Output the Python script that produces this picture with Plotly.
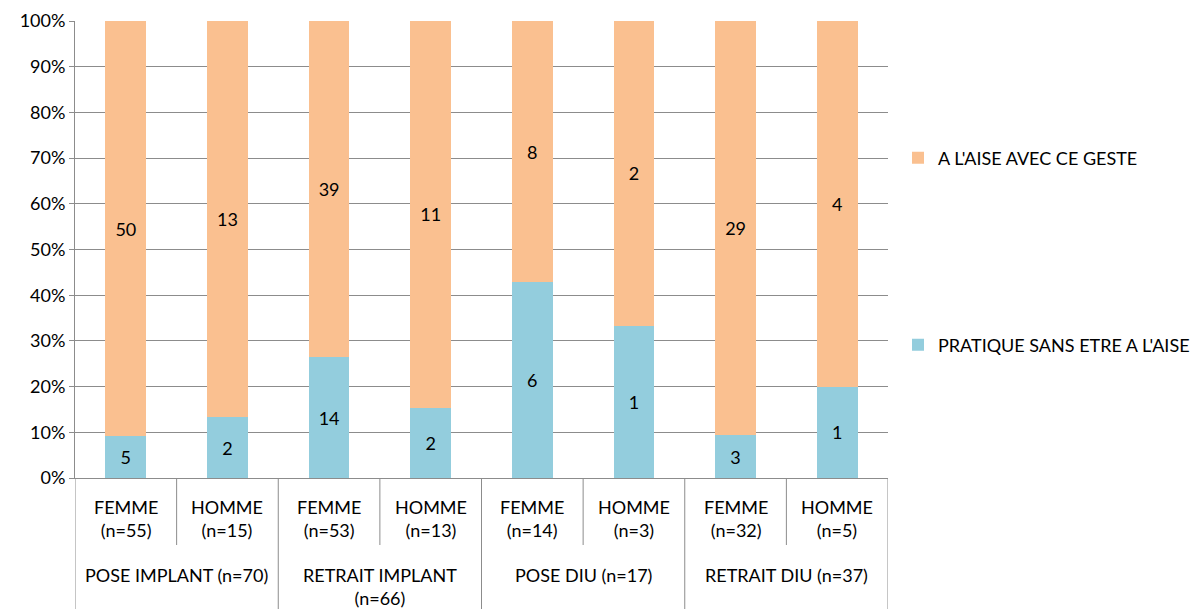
import plotly.graph_objects as go

categories = ["FEMME<br>(n=55)", "HOMME<br>(n=15)", "FEMME<br>(n=53)", "HOMME<br>(n=13)",
              "FEMME<br>(n=14)", "HOMME<br>(n=3)", "FEMME<br>(n=32)", "HOMME<br>(n=5)"]
groups = ["POSE IMPLANT (n=70)", "RETRAIT IMPLANT<br>(n=66)", "POSE DIU (n=17)", "RETRAIT DIU (n=37)"]
pratique = [5, 2, 14, 2, 6, 1, 3, 1]
aise = [50, 13, 39, 11, 8, 2, 29, 4]
y_ticks = [0, 10, 20, 30, 40, 50, 60, 70, 80, 90, 100]

FONT = "Lato"
FS = 18
BLUE = "#93CDDD"
ORANGE = "#FAC090"
GRID = "#8C8C8C"

xs = list(range(len(categories)))

fig = go.Figure()
fig.add_trace(go.Bar(
    x=xs, y=pratique, name="PRATIQUE SANS ETRE A L'AISE",
    marker=dict(color=BLUE, line=dict(width=0)),
    text=[str(v) for v in pratique], textposition="inside", insidetextanchor="middle",
    textfont=dict(family=FONT, size=FS, color="#000000"), textangle=0,
    legend="legend2", hoverinfo="skip"))
fig.add_trace(go.Bar(
    x=xs, y=aise, name="A L'AISE AVEC CE GESTE",
    marker=dict(color=ORANGE, line=dict(width=0)),
    text=[str(v) for v in aise], textposition="inside", insidetextanchor="middle",
    textfont=dict(family=FONT, size=FS, color="#000000"), textangle=0,
    legend="legend", hoverinfo="skip"))

L, T, R, B = 75, 21, 888, 478
W, H = 1191, 609
ph = B - T

def py(pix):
    return (B - pix) / ph

shapes = []
# dividers within groups
for i in range(len(categories) // 2):
    shapes.append(dict(type="line", xref="x", yref="paper", x0=2 * i + 0.5, x1=2 * i + 0.5,
                       y0=0, y1=py(545), line=dict(color=GRID, width=1)))
# dividers between groups
for i in range(len(groups) + 1):
    shapes.append(dict(type="line", xref="x", yref="paper", x0=2 * i - 0.5, x1=2 * i - 0.5,
                       y0=0, y1=py(612), line=dict(color=GRID, width=1)))

annotations = []
for i, c in enumerate(categories):
    annotations.append(dict(x=xs[i], y=py(494), xref="x", yref="paper", text=c, showarrow=False,
                            yanchor="top", xanchor="center", align="center",
                            font=dict(family=FONT, size=FS, color="#000000")))
for g, name in enumerate(groups):
    annotations.append(dict(x=2 * g + 0.5, y=py(562), xref="x", yref="paper", text=name, showarrow=False,
                            yanchor="top", xanchor="center", align="center",
                            font=dict(family=FONT, size=FS, color="#000000")))

fig.update_layout(
    width=W, height=H,
    barmode="stack", barnorm="percent", bargap=0.6,
    plot_bgcolor="white", paper_bgcolor="white",
    margin=dict(l=L, r=W - R, t=T, b=H - B, pad=0, autoexpand=False),
    font=dict(family=FONT, size=FS, color="#000000"),
    xaxis=dict(range=[-0.5, len(categories) - 0.5], showticklabels=False, showgrid=False,
               zeroline=False, showline=True, linecolor=GRID, linewidth=1, ticks="",
               automargin=False),
    yaxis=dict(range=[0, 100], tickvals=y_ticks, ticktext=[f"{v}%" for v in y_ticks],
               showgrid=True, gridcolor=GRID, gridwidth=1, zeroline=False,
               showline=True, linecolor=GRID, linewidth=1, ticks="outside", ticklen=5,
               tickcolor=GRID, automargin=False,
               tickfont=dict(family=FONT, size=FS, color="#000000")),
    legend=dict(x=898 / W, xref="container", y=py(158), yanchor="middle", xanchor="left",
                bgcolor="rgba(0,0,0,0)", font=dict(family=FONT, size=FS, color="#000000"),
                itemwidth=30),
    legend2=dict(x=898 / W, xref="container", y=py(345), yanchor="middle", xanchor="left",
                 bgcolor="rgba(0,0,0,0)", font=dict(family=FONT, size=FS, color="#000000"),
                 itemwidth=30),
    shapes=shapes, annotations=annotations, showlegend=True,
)

fig.write_html("out.html", config={"displayModeBar": False},
               post_script="document.body.style.margin='0';document.body.style.overflow='hidden';")
